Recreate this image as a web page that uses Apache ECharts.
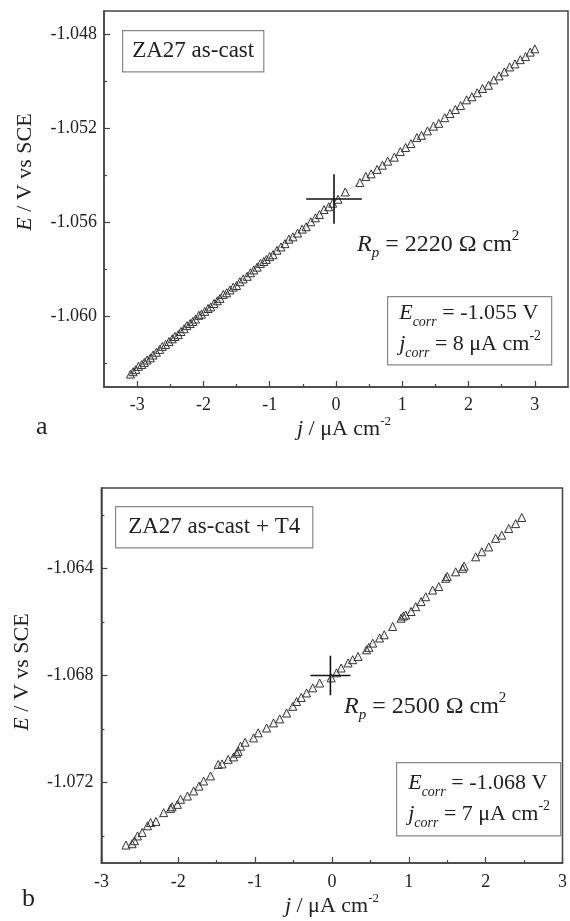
<!DOCTYPE html>
<html>
<head>
<meta charset="utf-8">
<script src="https://cdn.jsdelivr.net/npm/echarts@6/dist/echarts.min.js"></script>
<style>
  html, body { margin: 0; padding: 0; background: #fff; }
  #chart { width: 570px; height: 921px; }
</style>
</head>
<body>
<div id="chart"></div>
<script>
// panel a : ZA27 as-cast
const jTop = [-3.10,-3.06,-3.02,-2.98,-2.93,-2.89,-2.85,-2.80,-2.76,-2.71,-2.66,-2.62,-2.57,-2.52,-2.47,-2.43,-2.38,-2.34,-2.29,-2.25,
  -2.20,-2.16,-2.12,-2.07,-2.03,-1.98,-1.93,-1.89,-1.84,-1.79,-1.75,-1.70,-1.65,-1.60,-1.55,-1.50,-1.45,-1.40,-1.34,-1.29,
  -1.24,-1.19,-1.14,-1.09,-1.05,-1.00,-0.95,-0.89,-0.83,-0.77,-0.71,-0.65,-0.58,-0.51,-0.45,-0.38,-0.31,-0.25,-0.18,-0.11,
  -0.05,0.03,0.14,0.36,0.45,0.53,0.62,0.70,0.78,0.88,0.97,1.05,1.13,1.22,1.29,1.38,1.47,1.55,1.64,1.72,
  1.80,1.88,1.97,2.05,2.13,2.21,2.30,2.38,2.46,2.54,2.62,2.70,2.78,2.86,2.93,3.00];
const eTop = [-1.06245,-1.06235,-1.06226,-1.06212,-1.06204,-1.06195,-1.06185,-1.06176,-1.06164,-1.06152,
  -1.06140,-1.06127,-1.06119,-1.06107,-1.06095,-1.06085,-1.06077,-1.06064,-1.06052,-1.06039,
  -1.06030,-1.06021,-1.06011,-1.05995,-1.05990,-1.05978,-1.05966,-1.05959,-1.05945,-1.05933,
  -1.05923,-1.05906,-1.05899,-1.05887,-1.05875,-1.05868,-1.05852,-1.05840,-1.05829,-1.05814,
  -1.05802,-1.05790,-1.05774,-1.05766,-1.05757,-1.05745,-1.05737,-1.05718,-1.05704,-1.05690,
  -1.05671,-1.05661,-1.05645,-1.05628,-1.05618,-1.05597,-1.05580,-1.05566,-1.05545,-1.05533,
  -1.05518,-1.05501,-1.05470,-1.05430,-1.05404,-1.05393,-1.05374,-1.05356,-1.05339,-1.05322,
  -1.05298,-1.05281,-1.05264,-1.05238,-1.05229,-1.05210,-1.05190,-1.05178,-1.05154,-1.05136,
  -1.05119,-1.05102,-1.05078,-1.05065,-1.05048,-1.05030,-1.05016,-1.04993,-1.04976,-1.04959,
  -1.04938,-1.04925,-1.04907,-1.04894,-1.04875,-1.04861];

// panel b : ZA27 as-cast + T4
const jBot = [-2.68,-2.60,-2.57,-2.53,-2.47,-2.40,-2.36,-2.29,-2.19,-2.10,-2.08,-2.01,-1.97,-1.88,-1.80,-1.73,-1.67,-1.58,-1.48,-1.43,
  -1.35,-1.28,-1.24,-1.22,-1.19,-1.13,-1.02,-0.96,-0.85,-0.76,-0.68,-0.59,-0.51,-0.46,-0.40,-0.33,-0.25,-0.16,-0.01,0.06,
  0.12,0.21,0.27,0.34,0.45,0.48,0.53,0.62,0.68,0.79,0.90,0.93,0.96,1.03,1.09,1.16,1.22,1.31,1.39,1.48,
  1.50,1.61,1.70,1.72,1.87,1.95,2.04,2.13,2.21,2.30,2.39,2.47];
const eBot = [-1.07433,-1.07428,-1.07417,-1.07399,-1.07386,-1.07361,-1.07349,-1.07345,-1.07312,-1.07296,
  -1.07290,-1.07281,-1.07262,-1.07250,-1.07231,-1.07213,-1.07194,-1.07175,-1.07132,-1.07130,
  -1.07113,-1.07104,-1.07090,-1.07083,-1.07064,-1.07049,-1.07033,-1.07014,-1.06996,-1.06977,
  -1.06962,-1.06940,-1.06915,-1.06897,-1.06882,-1.06865,-1.06846,-1.06828,-1.06809,-1.06790,
  -1.06772,-1.06753,-1.06741,-1.06729,-1.06704,-1.06695,-1.06679,-1.06660,-1.06648,-1.06617,
  -1.06586,-1.06578,-1.06574,-1.06561,-1.06543,-1.06524,-1.06506,-1.06481,-1.06468,-1.06437,
  -1.06430,-1.06413,-1.06400,-1.06392,-1.06357,-1.06338,-1.06320,-1.06288,-1.06276,-1.06251,
  -1.06233,-1.06210];

// ticks
const xMajorTop = [-3, -2, -1, 0, 1, 2, 3];
const xMinorTop = [-2.5, -1.5, -0.5, 0.5, 1.5, 2.5];
const yMajorTop = [-1.060, -1.056, -1.052, -1.048];
const yMinorTop = [-1.062, -1.058, -1.054, -1.050];
const xMajorBot = [-3, -2, -1, 0, 1, 2, 3];
const xMinorBot = [-2.5, -1.5, -0.5, 0.5, 1.5, 2.5];
const yMajorBot = [-1.072, -1.068, -1.064];
const yMinorBot = [-1.074, -1.070, -1.066, -1.062];

// corrosion point (j, E) marked with a cross
const crossTop = [-0.03, -1.055];
const crossBot = [-0.02, -1.068];

const FONT = '"Liberation Serif", "Times New Roman", serif';
const INK = '#222';
const AX = '#444';

const zip = (xs, ys) => xs.map((x, i) => [x, ys[i]]);

// arm lengths of the cross, in axis units
const crossArms = [{ dj: 0.42, dE: 0.00105 }, { dj: 0.26, dE: 0.00074 }];

const crossSeries = (c, arm, k) => [
  [[c[0] - arm.dj, c[1]], [c[0] + arm.dj, c[1]]],
  [[c[0], c[1] - arm.dE], [c[0], c[1] + arm.dE]]
].map(d => ({
  type: 'line', xAxisIndex: 2 * k, yAxisIndex: 2 * k, data: d,
  symbol: 'none', silent: true, z: 5,
  lineStyle: { color: '#111', width: 1.6 }
}));

const pointSeries = (data, k) => ({
  type: 'line', xAxisIndex: 2 * k, yAxisIndex: 2 * k, data: data,
  symbol: 'triangle', symbolSize: 8, showAllSymbol: true,
  lineStyle: { color: '#999', width: 0.5 },
  itemStyle: { color: 'rgba(255,255,255,0)', borderColor: '#333', borderWidth: 1 }
});

const nameRich = {
  n: { fontFamily: FONT, fontSize: 22, color: INK, lineHeight: 28 },
  i: { fontFamily: FONT, fontSize: 22, fontStyle: 'italic', color: INK, lineHeight: 28 },
  sup: { fontFamily: FONT, fontSize: 13, color: INK, lineHeight: 14, verticalAlign: 'top' }
};

const xAxes = (major, minor, min, max, k, gap, pad) => [
  {
    type: 'value', gridIndex: k, min: min, max: max, position: 'bottom',
    name: '{i|j}{n| / μA cm}{sup|-2}', nameLocation: 'middle', nameGap: gap,
    nameTextStyle: { fontFamily: FONT, fontSize: 22, color: INK, lineHeight: 28, rich: nameRich, padding: pad },
    axisLine: { show: true, onZero: false, lineStyle: { color: AX, width: 1.5 } },
    axisTick: { show: true, inside: true, length: 6, customValues: major, lineStyle: { color: AX, width: 1.2 } },
    axisLabel: { customValues: major, margin: k ? 10 : 9, fontFamily: FONT, fontSize: 18, color: INK },
    splitLine: { show: false }
  },
  {
    type: 'value', gridIndex: k, min: min, max: max, position: 'bottom',
    axisLine: { show: false, onZero: false },
    axisTick: { show: true, inside: true, length: 3, customValues: minor, lineStyle: { color: AX, width: 1.2 } },
    axisLabel: { show: false },
    splitLine: { show: false }
  }
];

const yAxes = (major, minor, min, max, k, gap, pad) => [
  {
    type: 'value', gridIndex: k, min: min, max: max, position: 'left',
    name: '{i|E}{n| / V vs SCE}', nameLocation: 'middle', nameGap: gap, nameRotate: 90,
    nameTextStyle: { fontFamily: FONT, fontSize: 22, color: INK, lineHeight: 28, rich: nameRich, padding: pad },
    axisLine: { show: true, onZero: false, lineStyle: { color: AX, width: 1.5 } },
    axisTick: { show: true, inside: true, length: 6, customValues: major, lineStyle: { color: AX, width: 1.2 } },
    axisLabel: {
      customValues: major, margin: k ? 8 : 7, fontFamily: FONT, fontSize: 18, color: INK,
      formatter: v => v.toFixed(3)
    },
    splitLine: { show: false }
  },
  {
    type: 'value', gridIndex: k, min: min, max: max, position: 'left',
    axisLine: { show: false, onZero: false },
    axisTick: { show: true, inside: true, length: 3, customValues: minor, lineStyle: { color: AX, width: 1.2 } },
    axisLabel: { show: false },
    splitLine: { show: false }
  }
];

const boxRich = (size, lh) => ({
  n: { fontFamily: FONT, fontSize: size, fill: INK, lineHeight: lh },
  i: { fontFamily: FONT, fontSize: size, fontStyle: 'italic', fill: INK, lineHeight: lh },
  sub: { fontFamily: FONT, fontSize: Math.round(size * 0.62), fontStyle: 'italic', fill: INK, lineHeight: 8, verticalAlign: 'bottom' },
  sup: { fontFamily: FONT, fontSize: Math.round(size * 0.62), fill: INK, lineHeight: Math.round(lh * 0.45), verticalAlign: 'top' }
});

const labelBox = (text, left, top, padH) => ({
  type: 'text', left: left, top: top, z: 10,
  style: {
    text: text, fontFamily: FONT, fontSize: 23, fill: INK, lineHeight: 26,
    padding: [7, padH, 7, padH], backgroundColor: '#fff', borderColor: '#888', borderWidth: 1.2
  }
});

const rpText = (text, left, top) => ({
  type: 'text', left: left, top: top, z: 10,
  style: { text: text, fontFamily: FONT, fontSize: 24, fill: INK, rich: boxRich(24, 32) }
});

const corrBox = (text, left, top, pad) => ({
  type: 'text', left: left, top: top, z: 10,
  style: {
    text: text, fontFamily: FONT, fontSize: 22, fill: INK, rich: boxRich(22, 31),
    padding: pad, backgroundColor: '#fff', borderColor: '#888', borderWidth: 1.2
  }
});

const panelLetter = (t, left, top) => ({
  type: 'text', left: left, top: top,
  style: { text: t, fontFamily: FONT, fontSize: 26, fill: INK }
});

const chart = echarts.init(document.getElementById('chart'));
chart.setOption({
  backgroundColor: '#fff',
  animation: false,
  grid: [
    { left: 104, top: 11, width: 464, height: 376, show: true, borderColor: AX, borderWidth: 1.5 },
    { left: 100, top: 488, width: 464, height: 375, show: true, borderColor: AX, borderWidth: 1.5 }
  ],
  xAxis: [
    ...xAxes(xMajorTop, xMinorTop, -3.5, 3.5, 0, 27, [0, 0, 0, 16]),
    ...xAxes(xMajorBot, xMinorBot, -3, 3, 1, 19, [0, 0, 0, 0])
  ],
  yAxis: [
    ...yAxes(yMajorTop, yMinorTop, -1.063, -1.047, 0, 64, [0, 0, 0, 54]),
    ...yAxes(yMajorBot, yMinorBot, -1.075, -1.061, 1, 59, [0, 0, 0, 7])
  ],
  series: [
    pointSeries(zip(jTop, eTop), 0),
    ...crossSeries(crossTop, crossArms[0], 0),
    pointSeries(zip(jBot, eBot), 1),
    ...crossSeries(crossBot, crossArms[1], 1)
  ],
  graphic: [
    labelBox('ZA27 as-cast', 122, 30, 9),
    labelBox('ZA27 as-cast + T4', 115, 506, 12),
    rpText('{i|R}{sub|p}{n| = 2220 Ω cm}{sup|2}', 357, 229),
    rpText('{i|R}{sub|p}{n| = 2500 Ω cm}{sup|2}', 344, 691),
    corrBox('{i|E}{sub|corr}{n| = -1.055 V}\n{i|j}{sub|corr}{n| = 8 μA cm}{sup|-2}', 387, 296, [1, 10, 4, 11]),
    corrBox('{i|E}{sub|corr}{n| = -1.068 V}\n{i|j}{sub|corr}{n| = 7 μA cm}{sup|-2}', 396, 762, [5, 10, 5, 11]),
    panelLetter('a', 36, 414),
    panelLetter('b', 22, 886)
  ]
});
</script>
</body>
</html>
